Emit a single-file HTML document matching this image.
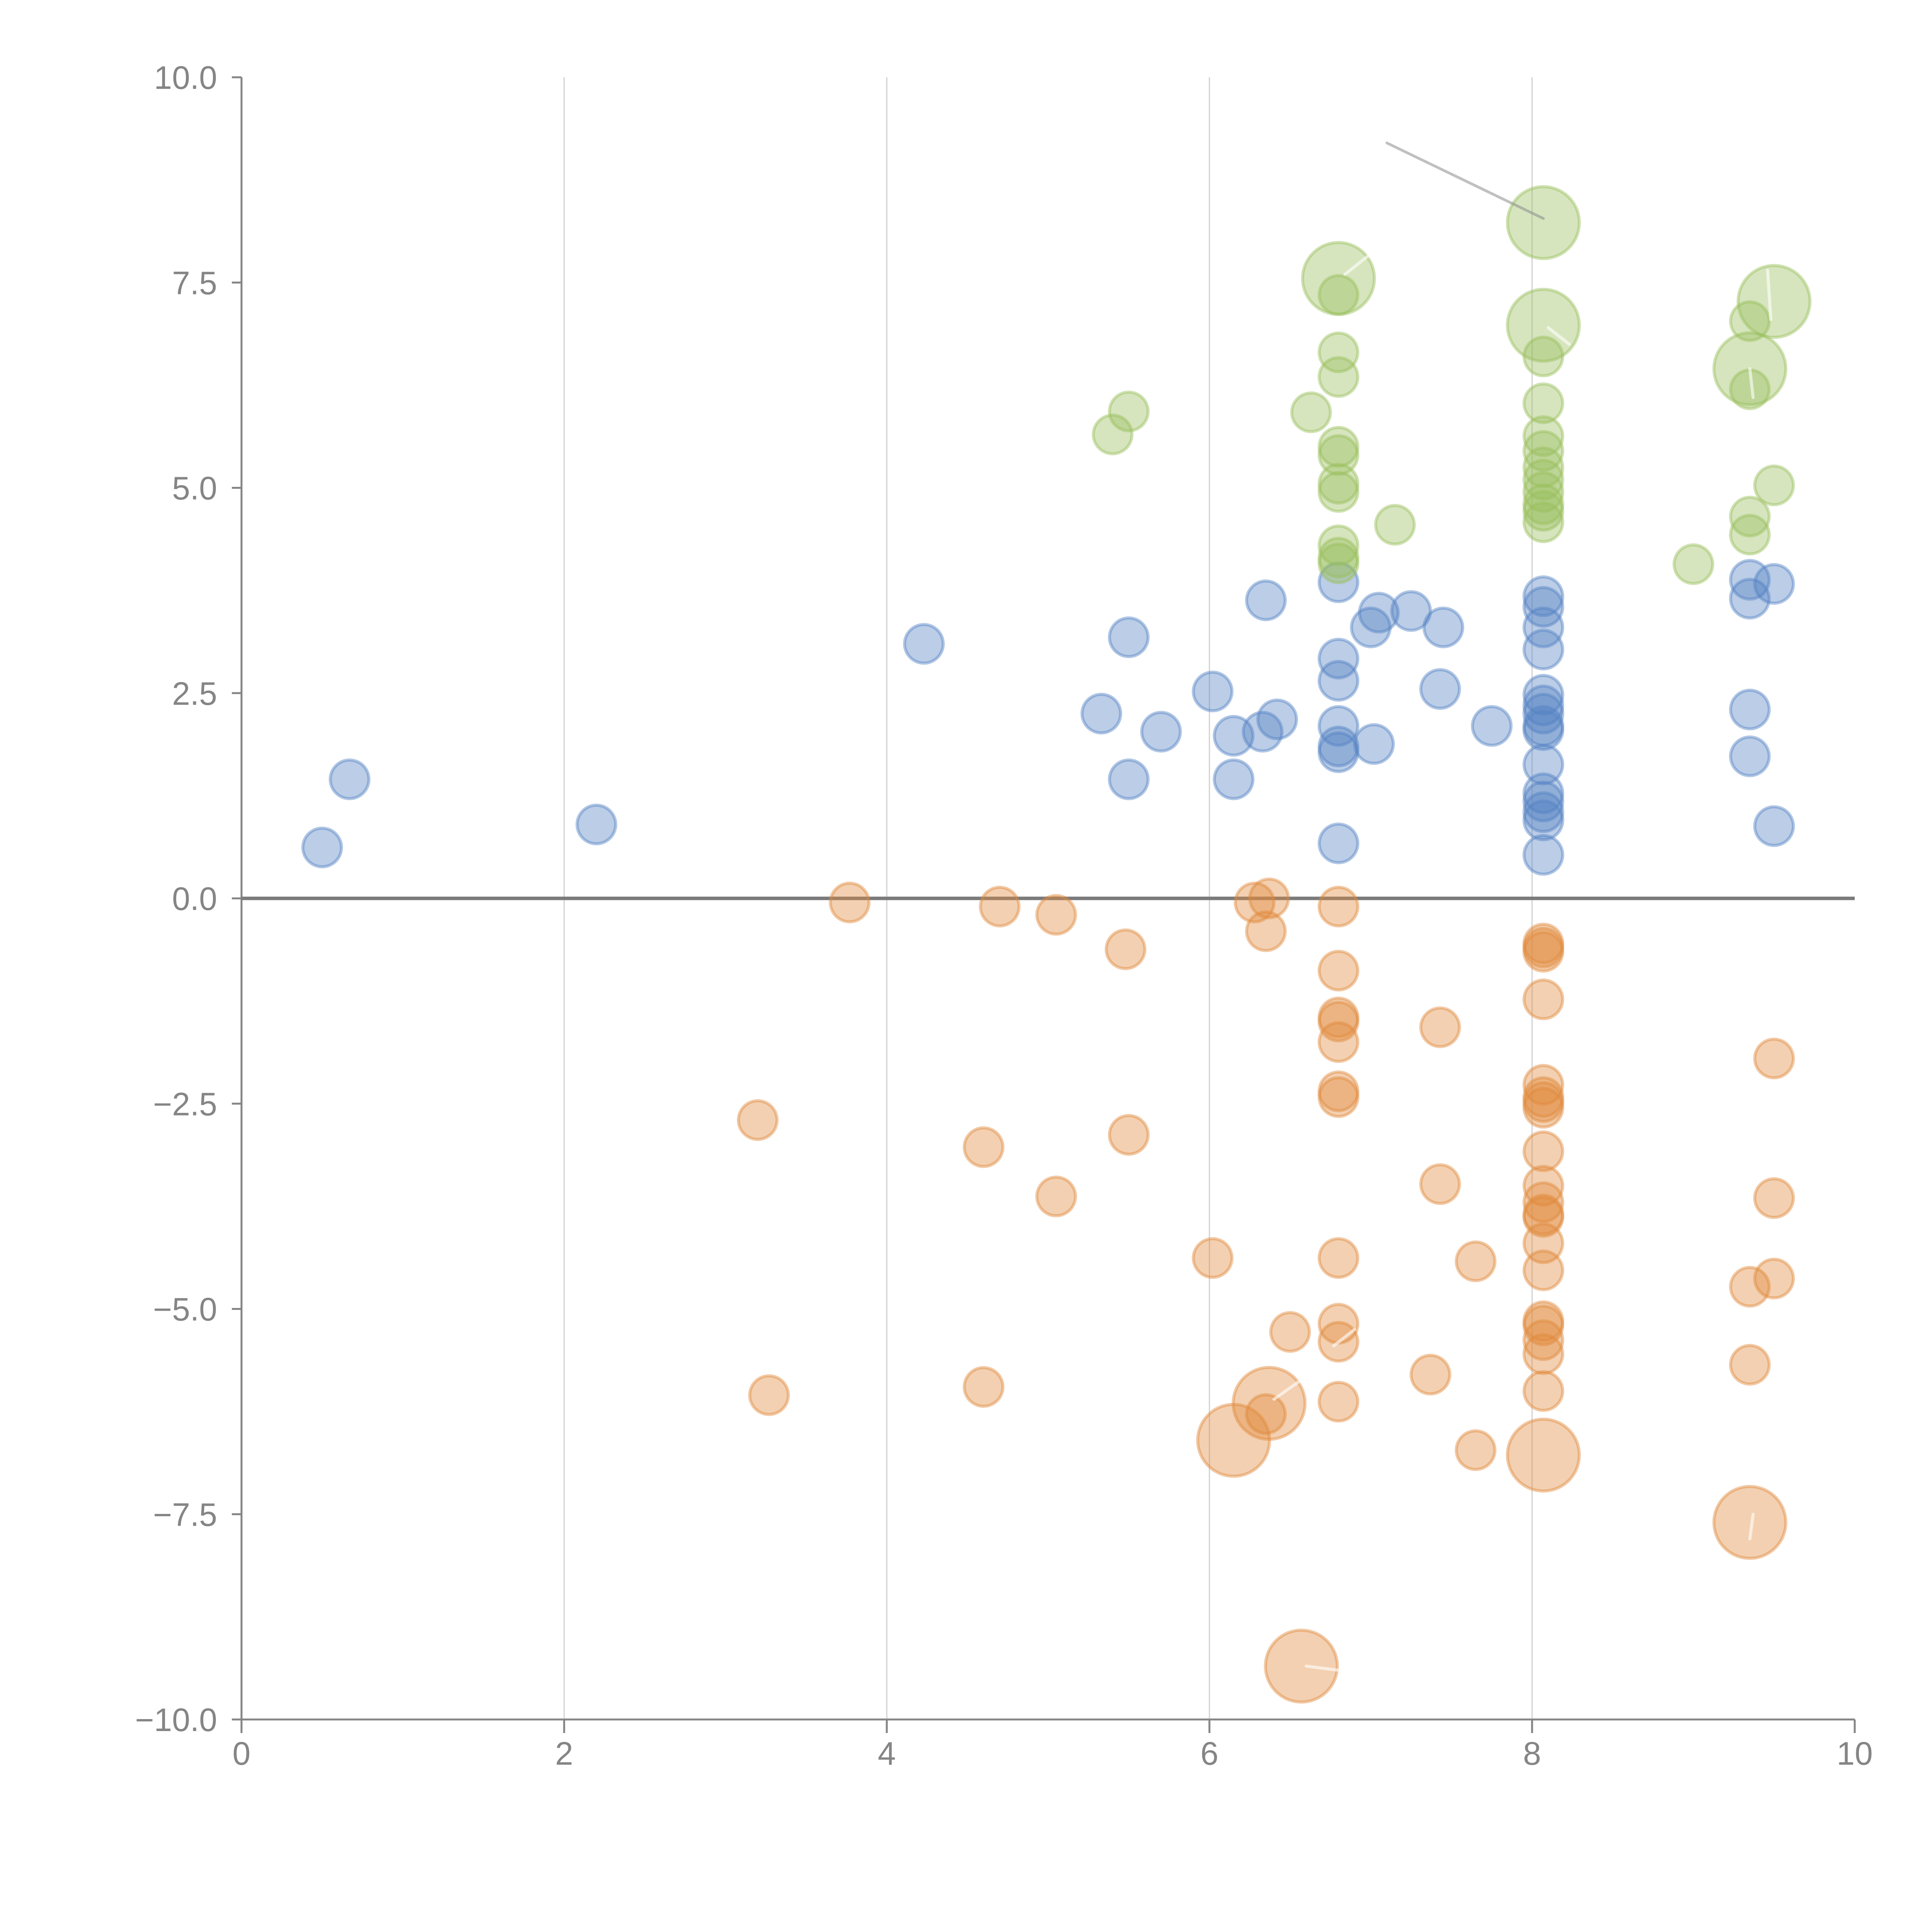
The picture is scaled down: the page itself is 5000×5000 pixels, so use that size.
<!DOCTYPE html>
<html><head><meta charset="utf-8"><style>
html,body{margin:0;padding:0;background:#fff;}
svg{display:block;}
text{font-family:"Liberation Sans",Arial,sans-serif;fill:#858585;font-size:84px;}
</style></head><body>
<svg id="chart" width="5000" height="5000" viewBox="0 0 5000 5000" xmlns="http://www.w3.org/2000/svg">
<g id="grid"></g>
<g id="axes"></g>
<g id="marks"></g>
<g id="leaders"></g>
</svg>
<script>
const xTicks=[0,2,4,6,8,10];
const yTicks=[-10,-7.5,-5,-2.5,0,2.5,5,7.5,10];
const yTickLabels=["\u221210.0","\u22127.5","\u22125.0","\u22122.5","0.0","2.5","5.0","7.5","10.0"];
const blueX=[0.5,0.67,2.2,4.23,5.5,5.33,5.5,5.7,6.02,6.15,6.15,6.35,6.33,6.42,6.8,6.8,6.8,6.8,6.8,6.8,6.8,7.0,7.05,7.25,7.02,7.45,7.43,7.75,8.07,8.07,8.07,8.07,8.07,8.07,8.07,8.07,8.07,8.07,8.07,8.07,8.07,8.07,8.07,9.35,9.35,9.5,9.35,9.35,9.5];
const blueY=[0.62,1.45,0.9,3.1,3.18,2.25,1.45,2.03,2.52,1.98,1.45,3.63,2.03,2.18,3.85,2.92,2.65,2.1,1.85,1.78,0.67,3.3,3.48,3.5,1.88,3.3,2.55,2.1,3.68,3.55,3.3,3.03,2.48,2.35,2.25,2.1,2.05,1.63,1.28,1.18,1.05,0.95,0.53,3.88,3.65,3.83,2.3,1.73,0.88];
const greenX=[5.4,5.5,6.63,6.8,6.8,6.8,6.8,6.8,6.8,6.8,6.8,6.8,6.8,6.8,7.15,8.07,8.07,8.07,8.07,8.07,8.07,8.07,8.07,8.07,8.07,8.07,8.07,9.0,9.35,9.5,9.35,9.35,9.5,9.35,9.35];
const greenY=[5.65,5.93,5.92,7.55,7.35,6.65,6.35,5.5,5.4,5.05,4.95,4.3,4.15,4.08,4.55,8.23,6.98,6.6,6.03,5.63,5.45,5.25,5.1,4.95,4.8,4.72,4.58,4.07,7.03,7.27,6.45,6.2,5.03,4.65,4.43];
const greenSize=[1,1,1,2,1,1,1,1,1,1,1,1,1,1,1,2,2,1,1,1,1,1,1,1,1,1,1,1,1,2,2,1,1,1,1];
const orangeX=[3.77,4.7,5.05,5.48,6.28,6.37,6.35,6.8,6.8,6.8,6.8,6.8,6.8,6.8,7.43,8.07,8.07,8.07,8.07,8.07,8.07,8.07,8.07,8.07,8.07,8.07,8.07,8.07,8.07,8.07,8.07,8.07,8.07,8.07,8.07,8.07,9.5,9.5,9.5,9.35,9.35,9.35,3.2,4.6,5.5,5.05,6.02,6.8,7.43,7.65,6.5,6.8,6.8,6.8,7.37,7.65,3.27,4.6,6.37,6.35,6.15,6.57];
const orangeY=[-0.05,-0.1,-0.2,-0.62,-0.05,0.0,-0.4,-0.1,-0.88,-1.45,-1.5,-1.75,-2.35,-2.42,-1.57,-0.55,-0.6,-0.65,-1.23,-2.27,-2.42,-2.48,-2.55,-3.08,-3.5,-3.7,-3.85,-3.88,-4.2,-4.53,-5.15,-5.2,-5.38,-5.55,-6.0,-6.78,-1.95,-3.65,-4.63,-4.73,-5.68,-7.6,-2.7,-3.03,-2.88,-3.63,-4.38,-4.38,-3.48,-4.42,-5.28,-5.18,-5.4,-6.13,-5.8,-6.72,-6.05,-5.95,-6.15,-6.28,-6.6,-9.35];
const orangeSize=[1,1,1,1,1,1,1,1,1,1,1,1,1,1,1,1,1,1,1,1,1,1,1,1,1,1,1,1,1,1,1,1,1,1,1,2,1,1,1,1,1,2,1,1,1,1,1,1,1,1,1,1,1,1,1,1,1,1,2,1,2,2];
const leaderX1=[6.84,8.1,9.48,9.37,6.4,6.6,9.35,6.77];
const leaderY1=[7.6,6.95,7.05,6.1,-6.1,-9.35,-7.8,-5.45];
const leaderX2=[7.0,8.23,9.46,9.35,6.58,6.8,9.37,6.9];
const leaderY2=[7.85,6.75,7.65,6.45,-5.85,-9.4,-7.5,-5.25];

const NS="http://www.w3.org/2000/svg";
function sx(v){return 625+v*417.5;}
function sy(v){return 200+(10-v)*212.5;}
function el(tag,attrs,parent){const e=document.createElementNS(NS,tag);for(const k in attrs)e.setAttribute(k,attrs[k]);parent.appendChild(e);return e;}
const grid=document.getElementById('grid'),axes=document.getElementById('axes'),marks=document.getElementById('marks'),leaders=document.getElementById('leaders');

xTicks.forEach(t=>{
  if(t>0&&t<10){
    const g=el('line',{x1:sx(t),x2:sx(t),y1:sy(10),y2:sy(-10),stroke:'#d0d0d0','stroke-width':3},grid);
    
    
  }
  const tk=el('line',{x1:sx(t),x2:sx(t),y1:sy(-10),y2:sy(-10)+35,stroke:'#858585','stroke-width':5},axes);
  
  
  const tx=el('text',{x:sx(t),y:4567,'text-anchor':'middle'},axes);
  tx.textContent=String(t);
  
  
});
yTicks.forEach((t,i)=>{
  const tk=el('line',{x1:sx(0)-25,x2:sx(0),y1:sy(t),y2:sy(t),stroke:'#858585','stroke-width':5},axes);
  
  
  const tx=el('text',{x:562,y:sy(t)+30,'text-anchor':'end'},axes);
  tx.textContent=yTickLabels[i];
  
  
});
const xa=el('line',{x1:sx(0),x2:sx(10),y1:sy(-10),y2:sy(-10),stroke:'#858585','stroke-width':5},axes);


const ya=el('line',{x1:sx(0),x2:sx(0),y1:sy(10),y2:sy(-10),stroke:'#858585','stroke-width':5},axes);


const zl=el('line',{x1:sx(0),x2:sx(10),y1:sy(0),y2:sy(0),stroke:'#7a7a7a','stroke-width':9},axes);



function drawSeries(xs,ys,sizes,rgb,name){
  xs.forEach((x,i)=>{
    const r=(sizes&&sizes[i]===2)?93:50;
    const c=el('circle',{cx:sx(x),cy:sy(ys[i]),r:r,fill:'rgba('+rgb+',0.4)',stroke:'rgba('+rgb+',0.45)','stroke-width':8},marks);
    
    
  });
}
drawSeries(orangeX,orangeY,orangeSize,'224,138,60','orange');
drawSeries(blueX,blueY,null,'84,130,196','blue');
drawSeries(greenX,greenY,greenSize,'152,190,92','green');

leaderX1.forEach((x,i)=>{
  const l=el('line',{x1:sx(x),y1:sy(leaderY1[i]),x2:sx(leaderX2[i]),y2:sy(leaderY2[i]),stroke:'rgba(255,255,255,0.6)','stroke-width':8,'stroke-linecap':'round'},leaders);
  
  
});

const ann=el('line',{x1:sx(7.1),y1:sy(9.2),x2:sx(8.07),y2:sy(8.28),stroke:'rgba(140,140,140,0.55)','stroke-width':7,'stroke-linecap':'round'},leaders);


</script>
</body></html>
